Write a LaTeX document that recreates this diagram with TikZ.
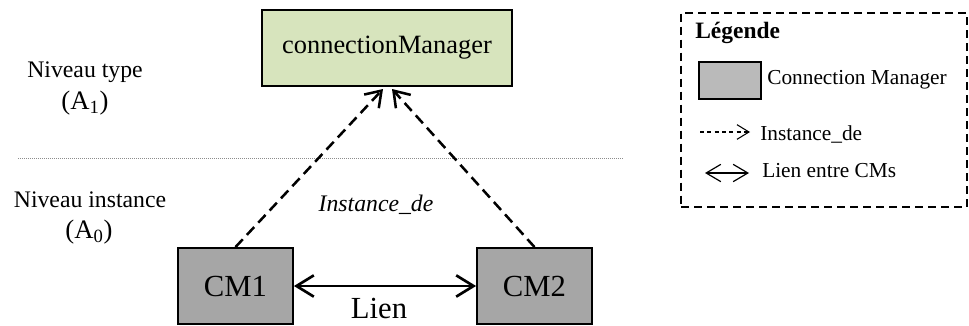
\documentclass[tikz,border=0pt]{standalone}
\usepackage{fontspec}
\setmainfont{Liberation Serif}
\usepackage{tikz}
\usetikzlibrary{arrows.meta, positioning, calc}
\definecolor{typegreen}{HTML}{D7E4BD}
\definecolor{cmgrey}{HTML}{A6A6A6}
\definecolor{leggrey}{HTML}{BABABA}
\definecolor{sepgrey}{HTML}{8C8C8C}

\begin{document}
\begin{tikzpicture}[x=0.75pt, y=-0.75pt,
  typebox/.style={draw=black, line width=1.4pt, fill=typegreen, minimum width=187.5pt,
                  minimum height=57pt, font=\fontsize{19.8}{23}\selectfont},
  cmbox/.style={draw=black, line width=1.4pt, fill=cmgrey, minimum width=86.25pt,
                minimum height=57pt, font=\fontsize{23}{26}\selectfont},
  lvl/.style={align=center, font=\fontsize{17.8}{21}\selectfont, inner sep=0pt},
  lvlidx/.style={font=\fontsize{20}{23}\selectfont, inner sep=0pt},
  leg/.style={anchor=west, font=\fontsize{16}{19}\selectfont, inner sep=0pt},
  inst/.style={line width=1.9pt, dash pattern=on 8pt off 4.5pt,
               -{Straight Barb[length=11pt, width=15pt, line width=1.9pt]}},
  link/.style={line width=2pt,
               {Straight Barb[length=13pt, width=16pt]}-{Straight Barb[length=13pt, width=16pt]}},
  leginst/.style={line width=0.8pt, dash pattern=on 3pt off 2.5pt,
                  -{Straight Barb[length=9pt, width=11pt]}},
  leglink/.style={line width=0.9pt,
                  {Straight Barb[length=11pt, width=13pt]}-{Straight Barb[length=11pt, width=13pt]}},
  levelsep/.style={draw=sepgrey, line width=0.7pt, dash pattern=on 0.7pt off 0.8pt},
]
\useasboundingbox (0,0) rectangle (969,325);

% Levels
\node[lvl] (typeLbl) at (85,72) {Niveau type};
\node[lvlidx] (typeIdx) at (85,103) {(A\textsubscript{1})};
\node[lvl] (instLbl) at (90,200) {Niveau instance};
\node[lvlidx] (instIdx) at (89,232) {(A\textsubscript{0})};

\coordinate (sepL) at (18,158);
\coordinate (sepR) at (623,158);
\draw[levelsep] (sepL) -- (sepR);

% Type and instances
\node[typebox] (cm) at (387,48) {connectionManager};
\node[cmbox] (cmA) at (235.5,286) {CM1};
\node[cmbox] (cmB) at (534.5,286) {CM2};

\coordinate (tipA) at (383,89);
\coordinate (tipB) at (392,89);
\draw[inst] (cmA.north) -- (tipA);
\draw[inst] (cmB.north) -- (tipB);
\node[font=\fontsize{17.8}{21}\selectfont\itshape] (instTxt) at (376,205) {Instance\_de};

\draw[link] (cmA.east) -- (cmB.west);
\node[font=\fontsize{23}{26}\selectfont] (lienTxt) at (379,308) {Lien};

% Legend
\node[draw=black, line width=1.5pt, dash pattern=on 6pt off 3.75pt,
      minimum width=214.5pt, minimum height=145.5pt] (legBox) at (824,109.7) {};
\node[leg, font=\fontsize{17.6}{20}\selectfont\bfseries] (legTitle) at (695,33) {Légende};
\node[draw=black, line width=1.4pt, fill=leggrey, minimum width=46.5pt,
      minimum height=27.75pt] (legCM) at (730,80.5) {};
\node[leg] (legCMTxt) at (767,80) {Connection Manager};

\coordinate (legInstA) at (700,132);
\coordinate (legInstB) at (750,132);
\draw[leginst] (legInstA) -- (legInstB);
\node[leg] (legInstTxt) at (760,134) {Instance\_de};

\coordinate (legLinkA) at (705,173);
\coordinate (legLinkB) at (749,173);
\draw[leglink] (legLinkA) -- (legLinkB);
\node[leg] (legLinkTxt) at (762,170.5) {Lien entre CMs};

\end{tikzpicture}
\end{document}
